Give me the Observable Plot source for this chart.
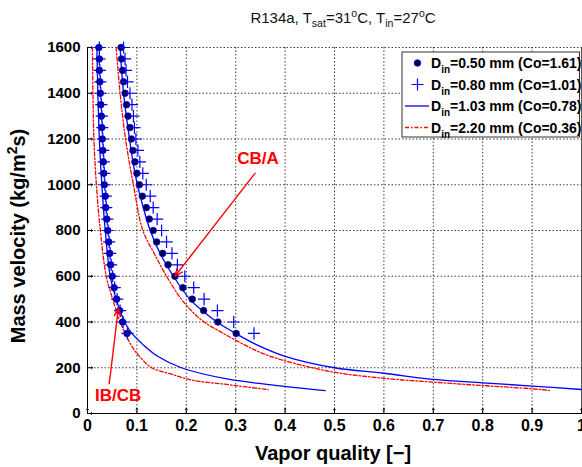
<!DOCTYPE html>
<html><head><meta charset="utf-8">
<script src="https://cdn.jsdelivr.net/npm/d3@7"></script>
<script src="https://cdn.jsdelivr.net/npm/@observablehq/plot@0.6"></script>
<style>body{margin:0;background:#fff;} svg{display:block}</style>
</head><body><div id="chart"></div>
<script>
// ---- axes ----
const xTicks = [0, 0.1, 0.2, 0.3, 0.4, 0.5, 0.6, 0.7, 0.8, 0.9, 1];
const xTickLabels = ["0", "0.1", "0.2", "0.3", "0.4", "0.5", "0.6", "0.7", "0.8", "0.9", "1"];
const yTicks = [0, 200, 400, 600, 800, 1000, 1200, 1400, 1600];
const yTickLabels = ["0", "200", "400", "600", "800", "1000", "1200", "1400", "1600"];

// ---- marker series (mass velocity steps) ----
const markerG = [1600,1550,1500,1450,1400,1350,1300,1250,1200,1150,1100,1050,1000,950,900,850,800,750,700,650,600,550,500,450,400,350];
const dots050_IBCB = [0.023,0.024,0.024,0.025,0.026,0.027,0.028,0.029,0.030,0.031,0.032,0.033,0.034,0.036,0.037,0.039,0.041,0.043,0.045,0.047,0.050,0.054,0.059,0.065,0.071,0.080];
const dots050_CBA  = [0.068,0.069,0.071,0.073,0.076,0.079,0.082,0.086,0.089,0.092,0.096,0.100,0.105,0.111,0.119,0.125,0.133,0.140,0.152,0.163,0.177,0.193,0.212,0.235,0.264,0.301];
const plus080_IBCB = [0.024,0.024,0.025,0.026,0.027,0.028,0.029,0.030,0.031,0.032,0.033,0.034,0.035,0.037,0.038,0.040,0.042,0.044,0.046,0.048,0.051,0.055,0.060,0.066,0.072,0.081];
const plus080_CBA  = [0.073,0.076,0.078,0.081,0.086,0.090,0.093,0.095,0.098,0.102,0.106,0.112,0.119,0.127,0.133,0.141,0.150,0.160,0.171,0.182,0.197,0.215,0.236,0.263,0.296,0.337];

// ---- curve series ----
const line103_IBCB_G = [1600,1400,1200,1000,800,600,500,450,400,350,300,250,200,150,120,100];
const line103_IBCB_x = [0.019,0.021,0.024,0.029,0.036,0.046,0.058,0.066,0.075,0.090,0.113,0.142,0.190,0.285,0.395,0.481];
const line103_CBA_G = [1600,1400,1200,1100,1000,900,800,700,600,500,450,400,350,300,250,200,176,149,134,120,105];
const line103_CBA_x = [0.066,0.073,0.085,0.092,0.101,0.113,0.127,0.147,0.174,0.207,0.232,0.262,0.300,0.343,0.400,0.500,0.600,0.700,0.800,0.900,1.000];
const line220_IBCB_G = [1600,1400,1200,1000,800,600,500,400,300,250,200,174,145,127,116,104];
const line220_IBCB_x = [0.010,0.011,0.013,0.018,0.026,0.038,0.051,0.066,0.088,0.105,0.130,0.167,0.214,0.282,0.322,0.366];
const line220_CBA_G = [1600,1400,1200,1000,800,700,600,500,450,400,350,300,265,232,181,154,137,122,108,101];
const line220_CBA_x = [0.058,0.066,0.077,0.093,0.112,0.135,0.160,0.190,0.210,0.236,0.275,0.318,0.352,0.397,0.498,0.600,0.700,0.801,0.899,0.935];

// ---- annotations (data space) ----
const annotationLabels = ["CB/A", "IB/CB"];
const annotationX = [0.345, 0.062];
const annotationG = [1116, 79];
const arrowFromX = [0.339, 0.044];
const arrowFromG = [1050, 130];
const arrowToX = [0.177, 0.0625];
const arrowToG = [600, 460];

// ---- legend ----
const legendLabels = [["0.50", "1.61"], ["0.80", "1.01"], ["1.03", "0.78"], ["2.20", "0.36"]];

const pts = (xs, gs) => xs.map((x, i) => ({x, g: gs[i]}));
const BLUE = "#0000ff", RED = "#ff0000";
const FONT = "Liberation Sans, Arial, Helvetica, sans-serif";

const plot = Plot.plot({
  width: 582, height: 467,
  marginTop: 47, marginBottom: 54, marginLeft: 87, marginRight: 1,
  style: {fontFamily: FONT, background: "#fff", overflow: "visible", color: "#000"},
  x: {domain: [0, 1]},
  y: {domain: [0, 1600]},
  marks: [
    Plot.ruleX(xTicks.filter(d => d > 0 && d < 1), {stroke: "#000", strokeDasharray: "1.5,2", strokeWidth: 1, strokeOpacity: 0.75}),
    Plot.ruleY(yTicks.filter(d => d > 0), {stroke: "#000", strokeDasharray: "1.5,2", strokeWidth: 1, strokeOpacity: 0.75}),
    Plot.ruleX([0], {stroke: "#000", strokeWidth: 1}),
    Plot.ruleX([1], {stroke: "#555", strokeWidth: 1}),
    Plot.ruleY([0], {stroke: "#000", strokeWidth: 1}),
    Plot.vector(xTicks, {x: d => d, y: 0, length: 5, rotate: 0, anchor: "start", stroke: "#000", strokeWidth: 1}),
    Plot.vector(yTicks, {x: 0, y: d => d, length: 5, rotate: 90, anchor: "start", stroke: "#000", strokeWidth: 1}),
    Plot.axisX(xTicks, {tickSize: 0, tickPadding: 6, tickFormat: d => xTickLabels[xTicks.indexOf(d)], fontSize: 16, fontWeight: "bold", label: null}),
    Plot.axisY(yTicks, {tickSize: 0, tickPadding: 7, tickFormat: d => yTickLabels[yTicks.indexOf(d)], fontSize: 15, fontWeight: "bold", label: null}),
    Plot.line(pts(line220_IBCB_x, line220_IBCB_G), {x: "x", y: "g", stroke: RED, strokeWidth: 1.3, strokeDasharray: "4,2,1.5,2", curve: "catmull-rom"}),
    Plot.line(pts(line220_CBA_x, line220_CBA_G), {x: "x", y: "g", stroke: RED, strokeWidth: 1.3, strokeDasharray: "4,2,1.5,2", curve: "catmull-rom"}),
    Plot.line(pts(line103_IBCB_x, line103_IBCB_G), {x: "x", y: "g", stroke: BLUE, strokeWidth: 1.3, curve: "catmull-rom"}),
    Plot.line(pts(line103_CBA_x, line103_CBA_G), {x: "x", y: "g", stroke: BLUE, strokeWidth: 1.3, curve: "catmull-rom"}),
    Plot.dot(pts(dots050_IBCB, markerG).concat(pts(dots050_CBA, markerG)), {x: "x", y: "g", r: 3.3, fill: "#00003c", stroke: BLUE, strokeWidth: 0.8}),
    Plot.dot(pts(plus080_IBCB, markerG).concat(pts(plus080_CBA, markerG)), {x: "x", y: "g", symbol: "plus", r: 4, stroke: BLUE, strokeWidth: 1.2, fill: "none"}),
    Plot.arrow(annotationLabels, {x1: (d, i) => arrowFromX[i], y1: (d, i) => arrowFromG[i], x2: (d, i) => arrowToX[i], y2: (d, i) => arrowToG[i], stroke: RED, strokeWidth: 1.4, headLength: 9, headAngle: 45}),
    Plot.text(annotationLabels, {x: (d, i) => annotationX[i], y: (d, i) => annotationG[i], text: d => d, fill: RED, fontSize: 17, fontWeight: "bold"})
  ]
});

document.getElementById("chart").appendChild(plot);
const svg = d3.select(plot);

// Title
const title = svg.append("text").attr("x", 343).attr("y", 23).attr("text-anchor", "middle")
  .attr("font-family", FONT).attr("font-size", 15).attr("fill", "#111");
title.append("tspan").text("R134a, T");
title.append("tspan").attr("dy", 4).attr("font-size", 10.5).text("sat");
title.append("tspan").attr("dy", -4).text("=31");
title.append("tspan").attr("dy", -6).attr("font-size", 10.5).text("o");
title.append("tspan").attr("dy", 6).text("C, T");
title.append("tspan").attr("dy", 4).attr("font-size", 10.5).text("in");
title.append("tspan").attr("dy", -4).text("=27");
title.append("tspan").attr("dy", -6).attr("font-size", 10.5).text("o");
title.append("tspan").attr("dy", 6).text("C");

// Axis labels
svg.append("text").attr("x", 333).attr("y", 460).attr("text-anchor", "middle")
  .attr("font-family", FONT).attr("font-size", 20).attr("font-weight", "bold").text("Vapor quality [\u2212]");
const yl = svg.append("text").attr("transform", "translate(25,236) rotate(-90)").attr("text-anchor", "middle")
  .attr("font-family", FONT).attr("font-size", 20).attr("font-weight", "bold");
yl.append("tspan").text("Mass velocity (kg/m");
yl.append("tspan").attr("dy", -8).attr("font-size", 14).text("2");
yl.append("tspan").attr("dy", 8).text("s)");

// Legend
const lg = svg.append("g");
lg.append("rect").attr("x", 402).attr("y", 52).attr("width", 177.5).attr("height", 85)
  .attr("fill", "#fff").attr("stroke", "#333").attr("stroke-width", 1);
const rowY = [63, 84.5, 106, 127.5];
const sx = 417.5;
lg.append("circle").attr("cx", sx).attr("cy", rowY[0]).attr("r", 3.3).attr("fill", "#00003c").attr("stroke", BLUE).attr("stroke-width", 0.8);
lg.append("path").attr("d", `M${sx-6},${rowY[1]}H${sx+6}M${sx},${rowY[1]-6}V${rowY[1]+6}`).attr("stroke", BLUE).attr("stroke-width", 1.2);
lg.append("line").attr("x1", 405).attr("x2", 429).attr("y1", rowY[2]).attr("y2", rowY[2]).attr("stroke", BLUE).attr("stroke-width", 1.3);
lg.append("line").attr("x1", 405).attr("x2", 429).attr("y1", rowY[3]).attr("y2", rowY[3]).attr("stroke", RED).attr("stroke-width", 1.3).attr("stroke-dasharray", "4,2,1.5,2");
legendLabels.forEach(([d, co], i) => {
  const t = lg.append("text").attr("x", 431).attr("y", rowY[i] + 5).attr("text-anchor", "start")
    .attr("font-family", FONT).attr("font-size", 14).attr("font-weight", "bold").attr("fill", "#000");
  t.append("tspan").text("D");
  t.append("tspan").attr("dy", 5).attr("font-size", 10).text("in");
  t.append("tspan").attr("dy", -5).text(`=${d} mm (Co=${co})`);
});
</script>
</body></html>
